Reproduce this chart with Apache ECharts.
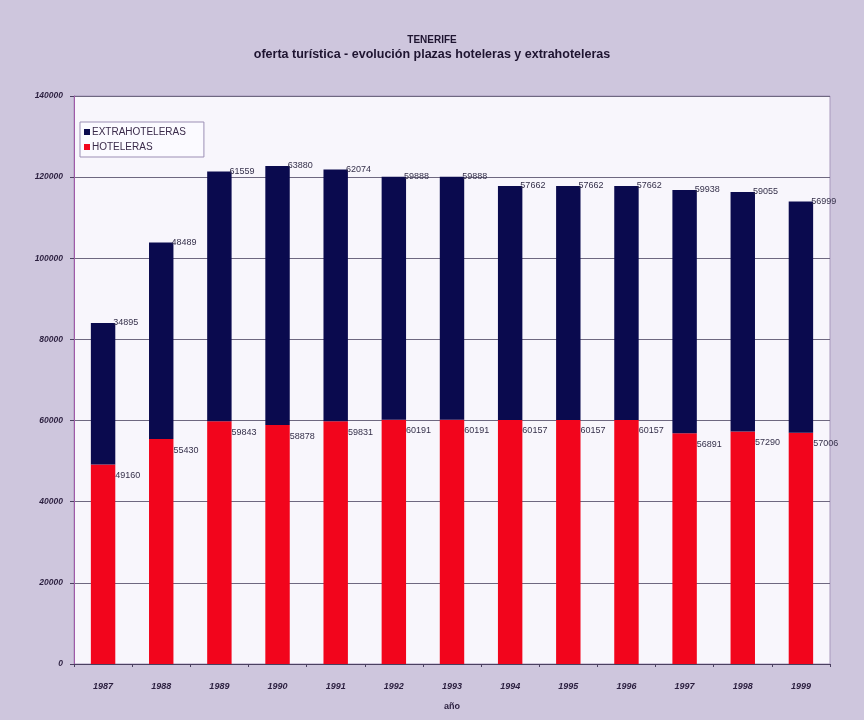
<!DOCTYPE html>
<html>
<head>
<meta charset="utf-8">
<title>TENERIFE - oferta turística</title>
<script src="https://cdn.jsdelivr.net/npm/echarts@6/dist/echarts.min.js"></script>
<style>
  html, body { margin: 0; padding: 0; background: #cec6dd; }
  #chart { width: 864px; height: 720px; }
</style>
</head>
<body>
<div id="chart"></div>
<script>
// Years on the category axis
const years = ['1987', '1988', '1989', '1990', '1991', '1992', '1993',
               '1994', '1995', '1996', '1997', '1998', '1999'];

// Hotel beds (bottom segment)
const hoteleras = [49160, 55430, 59843, 58878, 59831, 60191, 60191,
                   60157, 60157, 60157, 56891, 57290, 57006];

// Non-hotel beds (top segment)
const extrahoteleras = [34895, 48489, 61559, 63880, 62074, 59888, 59888,
                        57662, 57662, 57662, 59938, 59055, 56999];

// Value-axis ticks
const yTicks = [0, 20000, 40000, 60000, 80000, 100000, 120000, 140000];

const FONT = '"Liberation Sans", Arial, sans-serif';

const chart = echarts.init(document.getElementById('chart'), null, { renderer: 'canvas' });

chart.setOption({
  backgroundColor: '#cec6dd',
  animation: false,
  title: {
    text: 'TENERIFE',
    subtext: 'oferta turística - evolución plazas hoteleras y extrahoteleras',
    left: 'center',
    top: 30,
    itemGap: 3,
    textStyle: { fontFamily: FONT, fontSize: 10, fontWeight: 'bold', color: '#1e1430' },
    subtextStyle: { fontFamily: FONT, fontSize: 12.5, fontWeight: 'bold', color: '#1e1430' }
  },
  legend: {
    orient: 'vertical',
    left: 80,
    top: 122,
    data: ['EXTRAHOTELERAS', 'HOTELERAS'],
    icon: 'rect',
    itemWidth: 6,
    itemHeight: 6,
    itemGap: 5,
    padding: [5, 18, 5, 4],
    backgroundColor: '#fbfaff',
    borderColor: '#9c8fb5',
    borderWidth: 1,
    textStyle: { fontFamily: FONT, fontSize: 10, color: '#3a2a4a', padding: [0, 0, 0, -3] }
  },
  grid: {
    left: 74,
    right: 34,
    top: 96,
    bottom: 56,
    show: true,
    backgroundColor: '#f8f6fc',
    borderColor: '#a898bd',
    borderWidth: 1
  },
  xAxis: {
    type: 'category',
    data: years,
    name: 'año',
    nameLocation: 'middle',
    nameGap: 38,
    nameTextStyle: { fontFamily: FONT, fontSize: 9, fontWeight: 'bold', color: '#2a1e3e' },
    axisLine: { lineStyle: { color: '#4a4060', width: 1 } },
    axisTick: { show: true, length: 3, alignWithLabel: false, lineStyle: { color: '#4a4060' } },
    axisLabel: {
      fontFamily: FONT, fontSize: 9, fontStyle: 'italic', fontWeight: 'bold',
      color: '#2a1e3e', margin: 18
    }
  },
  yAxis: {
    type: 'value',
    min: yTicks[0],
    max: yTicks[yTicks.length - 1],
    interval: yTicks[1] - yTicks[0],
    axisLine: { show: true, lineStyle: { color: '#a05aa8', width: 1 } },
    axisTick: { show: true, length: 4, lineStyle: { color: '#4a4060' } },
    splitLine: { lineStyle: { color: '#6e6880', width: 1 } },
    axisLabel: {
      fontFamily: FONT, fontSize: 8.5, fontStyle: 'italic', fontWeight: 'bold',
      color: '#2a1e3e', margin: 11,
      formatter: v => String(v)
    }
  },
  series: [
    {
      name: 'HOTELERAS',
      type: 'bar',
      stack: 'plazas',
      data: hoteleras,
      barCategoryGap: '58%',
      itemStyle: { color: '#f2051c' },
      label: {
        show: true,
        position: ['100%', 0],
        align: 'left',
        verticalAlign: 'middle',
        offset: [0, 11],
        fontFamily: FONT,
        fontSize: 9,
        color: '#35304a'
      }
    },
    {
      name: 'EXTRAHOTELERAS',
      type: 'bar',
      stack: 'plazas',
      data: extrahoteleras,
      itemStyle: { color: '#0a0a4e' },
      label: {
        show: true,
        position: ['100%', 0],
        align: 'left',
        verticalAlign: 'middle',
        offset: [-2, 0],
        fontFamily: FONT,
        fontSize: 9,
        color: '#35304a'
      }
    }
  ]
});
</script>
</body>
</html>
